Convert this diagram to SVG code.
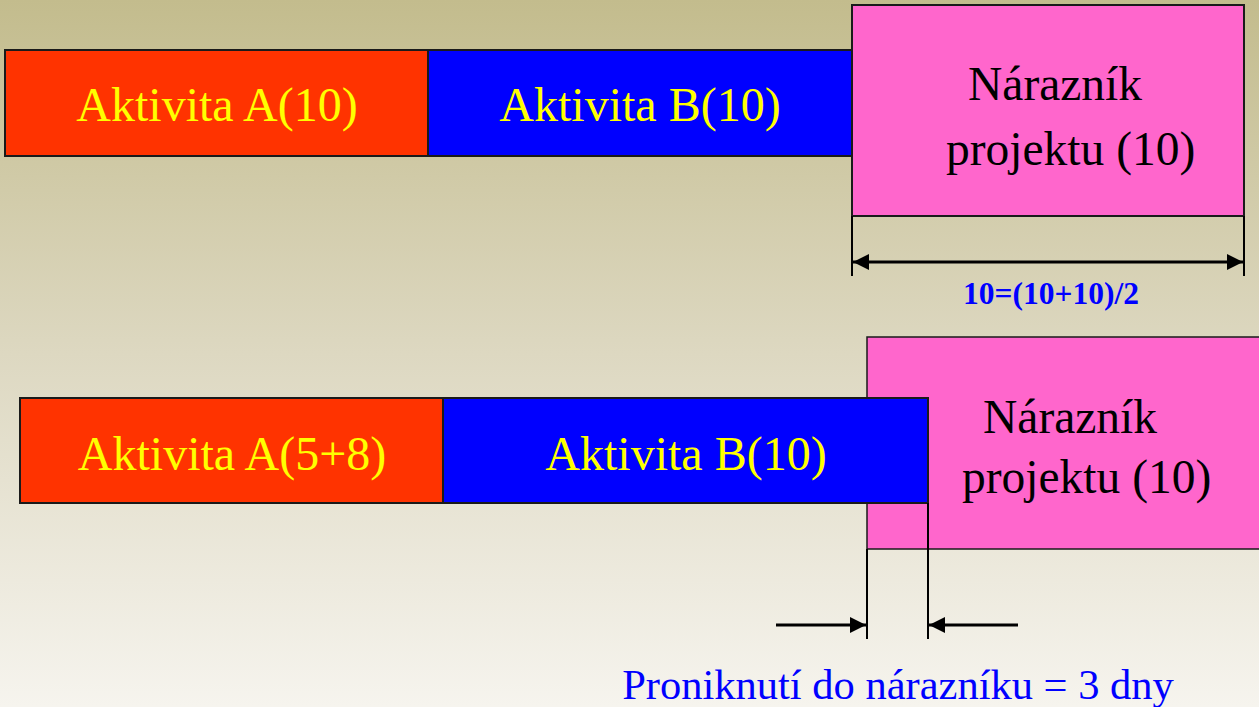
<svg xmlns="http://www.w3.org/2000/svg" width="1259" height="707" viewBox="0 0 1259 707">
<defs>
<linearGradient id="bg" x1="0" y1="0" x2="0" y2="1">
<stop offset="0" stop-color="#c3bc8d"/>
<stop offset="0.5" stop-color="#ddd8c1"/>
<stop offset="1" stop-color="#f6f4ee"/>
</linearGradient>
<marker id="ah" viewBox="0 0 16 16" refX="16" refY="8" markerWidth="16" markerHeight="16" markerUnits="userSpaceOnUse" orient="auto">
<path d="M0,0 L16,8 L0,16 Z" fill="#000"/>
</marker>
<style>
.red{fill:#ff3300;stroke:#1a1a1a;stroke-width:2}
.blue{fill:#0000ff;stroke:#1a1a1a;stroke-width:2}
.pink{fill:#ff66cc;stroke:#1a1a1a;stroke-width:2}
.lbl{font-family:"Liberation Serif","Times New Roman",serif;font-size:48px;fill:#ffff00}
.plbl{font-family:"Liberation Serif","Times New Roman",serif;font-size:47.5px;fill:#000}
.ln{stroke:#000;stroke-width:2;fill:none}
.dim{stroke:#000;stroke-width:3;fill:none}
.note{font-family:"Liberation Serif","Times New Roman",serif;fill:#0000ff}
</style>
</defs>
<rect x="0" y="0" width="1259" height="707" fill="url(#bg)"/>

<g id="top-pink">
<rect class="pink" x="852" y="5" width="392" height="211"/>
<text class="plbl" x="968" y="100">Nárazník</text>
<text class="plbl" x="946" y="165">projektu (10)</text>
</g>
<g id="top-a">
<rect class="red" x="5" y="50" width="423" height="106"/>
<text class="lbl" x="217" y="121" text-anchor="middle">Aktivita A(10)</text>
</g>
<g id="top-b">
<rect class="blue" x="428" y="50" width="424" height="106"/>
<text class="lbl" x="640" y="121" text-anchor="middle">Aktivita B(10)</text>
</g>

<g id="bottom-pink">
<rect class="pink" x="867" y="337" width="400" height="212" style="stroke-width:1.5"/>
<text class="plbl" x="983" y="433">Nárazník</text>
<text class="plbl" x="962" y="493">projektu (10)</text>
</g>
<g id="bottom-a">
<rect class="red" x="20" y="398" width="423" height="105"/>
<text class="lbl" x="232" y="470" text-anchor="middle">Aktivita A(5+8)</text>
</g>
<g id="bottom-b">
<rect class="blue" x="443" y="398" width="485" height="105"/>
<text class="lbl" x="686" y="470" text-anchor="middle">Aktivita B(10)</text>
</g>

<g id="connectors">
<line class="ln" x1="852" y1="216" x2="852" y2="276"/>
<line class="ln" x1="1244" y1="216" x2="1244" y2="276"/>
<line class="dim" x1="1050" y1="262" x2="853" y2="262" marker-end="url(#ah)"/>
<line class="dim" x1="1050" y1="262" x2="1243" y2="262" marker-end="url(#ah)"/>
<line class="ln" x1="867" y1="549" x2="867" y2="639"/>
<line class="ln" x1="928" y1="503" x2="928" y2="639"/>
<line class="dim" x1="776" y1="625" x2="866" y2="625" marker-end="url(#ah)"/>
<line class="dim" x1="1018" y1="625" x2="929" y2="625" marker-end="url(#ah)"/>
</g>

<g id="labels">
<text class="note" x="1051" y="304" text-anchor="middle" font-size="31.5" font-weight="bold">10=(10+10)/2</text>
<text class="note" x="898" y="699" text-anchor="middle" font-size="42.5">Proniknutí do nárazníku = 3 dny</text>
</g>
</svg>
